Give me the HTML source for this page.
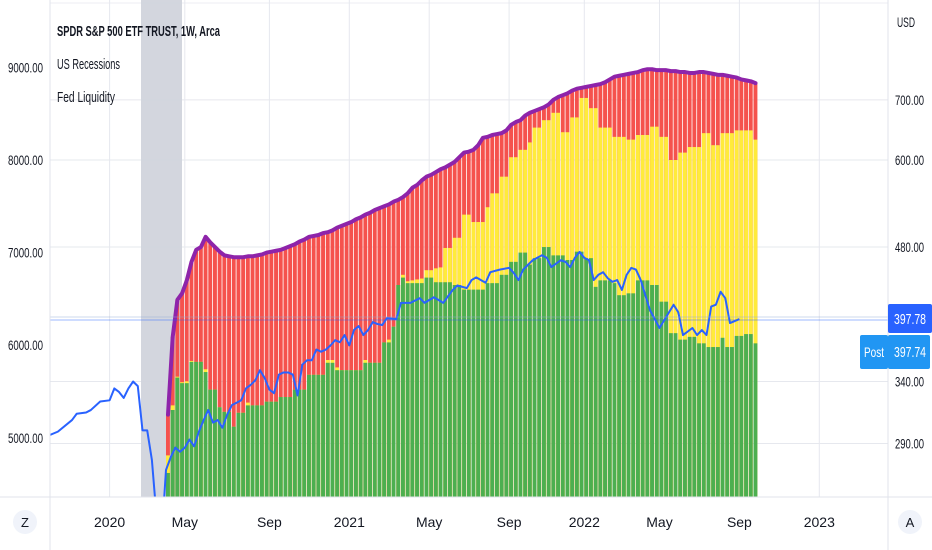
<!DOCTYPE html>
<html><head><meta charset="utf-8"><style>
html,body{margin:0;padding:0;background:#fff;}
svg{display:block;font-family:"Liberation Sans",sans-serif;}
</style></head><body>
<svg id="chart" width="932" height="550" viewBox="0 0 932 550" xmlns="http://www.w3.org/2000/svg">
<defs><clipPath id="plotclip"><rect x="50" y="0" width="838" height="497"/></clipPath></defs>
<rect x="0" y="0" width="932" height="550" fill="#ffffff"/>
<g id="grid"></g>
<rect x="141" y="0" width="41" height="497" fill="#d1d4dc" opacity="0.95"/>
<g id="plot" clip-path="url(#plotclip)"></g>
<line x1="50" x2="888" y1="320" y2="320" stroke="#2962ff" stroke-width="0.8" opacity="0.6"/>
<line x1="50" x2="888" y1="317" y2="317" stroke="#8fa8d8" stroke-width="0.7" opacity="0.6"/>
<line x1="50" x2="50" y1="0" y2="550" stroke="#e0e3eb"/>
<line x1="888" x2="888" y1="0" y2="550" stroke="#e0e3eb"/>
<line x1="0" x2="932" y1="497" y2="497" stroke="#e0e3eb"/>
<g id="axes"></g>
<text x="57" y="36" font-size="15" font-weight="bold" fill="#131722" textLength="163" lengthAdjust="spacingAndGlyphs">SPDR S&amp;P 500 ETF TRUST, 1W, Arca</text>
<text x="57" y="69" font-size="15" fill="#131722" textLength="63" lengthAdjust="spacingAndGlyphs">US Recessions</text>
<text x="57" y="102" font-size="15" fill="#131722" textLength="58" lengthAdjust="spacingAndGlyphs">Fed Liquidity</text>
<text x="897" y="27" font-size="14" fill="#131722" textLength="18" lengthAdjust="spacingAndGlyphs">USD</text>
<rect x="888" y="304" width="44" height="29" rx="2" fill="#2962ff"/>
<text x="926" y="324" font-size="15" fill="#fff" text-anchor="end" textLength="32" lengthAdjust="spacingAndGlyphs">397.78</text>
<rect x="860" y="335" width="28" height="34" rx="2" fill="#2196f3"/>
<text x="874" y="357" font-size="14" fill="#fff" text-anchor="middle" textLength="20" lengthAdjust="spacingAndGlyphs">Post</text>
<rect x="888" y="335" width="42" height="34" rx="2" fill="#2196f3"/>
<text x="926" y="357" font-size="15" fill="#fff" text-anchor="end" textLength="32" lengthAdjust="spacingAndGlyphs">397.74</text>
<circle cx="25" cy="522" r="12" fill="#f0f3fa"/>
<text x="25" y="527" font-size="13" fill="#131722" text-anchor="middle">Z</text>
<circle cx="910" cy="522" r="12" fill="#f0f3fa"/>
<text x="910" y="527" font-size="13" fill="#131722" text-anchor="middle">A</text>
</svg>
<script>
const totalTop=[5250,6090,6490,6560,6700,6900,7030,7060,7170,7110,7060,7010,6970,6960,6950,6950,6950,6960,6960,6970,6980,7000,7010,7020,7030,7050,7070,7090,7120,7140,7170,7180,7190,7210,7220,7240,7270,7290,7310,7330,7360,7380,7410,7430,7460,7480,7500,7520,7550,7570,7600,7640,7700,7730,7780,7820,7840,7870,7900,7920,7950,7980,8030,8080,8090,8110,8160,8240,8250,8270,8280,8290,8320,8380,8410,8430,8480,8510,8530,8550,8570,8600,8650,8680,8700,8720,8750,8770,8780,8790,8800,8810,8820,8840,8870,8900,8910,8920,8930,8940,8950,8970,8980,8980,8970,8970,8970,8960,8960,8950,8950,8940,8940,8950,8950,8940,8930,8920,8920,8910,8900,8890,8870,8860,8850,8830];
const yellowTop=[4810,5350,5660,5600,5610,5830,5820,5820,5740,5520,5520,5330,5280,5280,5120,5270,5270,5380,5350,5350,5350,5390,5390,5390,5440,5440,5440,5520,5520,5520,5680,5680,5680,5680,5840,5840,5760,5730,5730,5730,5730,5730,5840,5810,5810,5810,6030,6060,6200,6650,6760,6690,6700,6710,6720,6810,6810,6830,6840,7050,7050,7160,7160,7410,7410,7330,7330,7330,7490,7640,7640,7820,7820,8030,8030,8110,8110,8190,8350,8350,8430,8430,8510,8510,8300,8300,8460,8460,8670,8670,8560,8560,8350,8350,8350,8250,8250,8250,8220,8220,8270,8270,8270,8360,8360,8250,8250,8000,8000,8080,8080,8140,8140,8140,8290,8290,8160,8160,8290,8290,8290,8320,8320,8320,8320,8220];
const greenTop=[4620,5300,5650,5590,5590,5820,5820,5820,5710,5520,5520,5330,5280,5280,5120,5270,5270,5350,5350,5350,5350,5390,5390,5390,5440,5440,5440,5520,5520,5520,5680,5680,5680,5680,5810,5810,5730,5730,5730,5730,5730,5730,5810,5810,5810,5810,6030,6030,6200,6650,6730,6670,6670,6670,6670,6730,6730,6680,6680,6680,6680,6650,6650,6600,6600,6600,6600,6600,6670,6670,6670,6760,6760,6900,6900,7000,7000,6870,6940,6940,7060,7060,6970,6970,6970,6920,6920,7010,7010,6940,6940,6630,6700,6700,6700,6670,6540,6540,6560,6560,6700,6700,6700,6650,6650,6470,6470,6130,6130,6060,6060,6090,6090,6020,6020,5980,5980,5980,6080,5980,5980,6100,6100,6120,6120,6020];
const barStartWeek=25;
const spyWeeks=[0,2,5,6,8,9,11,13,14,15,16,17,18,19,20,21,22,23,24,25,26,27,28,29,30,31,32,33,34,35,36,37,38,39,40,41,42,43,44,45,46,47,48,49,50,51,52,53,54,55,56,57,58,59,60,61,62,63,64,65,66,67,68,69,70,71,72,74,75,77,79,80,82,84,86,87,89,90,91,93,94,96,98,99,100,101,103,105,106,107,109,110,111,112,113,114,115,116,117,118,119,120,121,122,123,124,125,126,127,128,130,133,134,135,137,138,139,140,141,142,143,144,145,147,148];
const spyPrices=[296,299,308,313,314,316,323,324,334,331,326,334,340,336,300,300,278,240,225,271,280,287,284,287,293,288,299,308,316,306,308,302,312,320,322,324,334,337,341,350,343,333,330,346,348,348,346,328,355,359,359,369,367,369,373,378,376,383,373,388,392,383,388,396,394,393,400,399,416,416,421,416,422,416,430,435,432,441,444,438,450,453,455,449,441,453,464,470,467,456,464,462,456,467,474,467,464,441,447,450,443,439,441,430,447,455,453,441,424,408,390,414,406,383,390,383,388,383,412,414,428,421,395,399];
const leftTicks=[9000,8000,7000,6000,5000];
const rightTicks=[700,600,480,340,290];
const timeLabels=["2020","May","Sep","2021","May","Sep","2022","May","Sep","2023"];
const timeLabelWeeks=[13,29,47,64,81,98,114,130,147,164];

const NS="http://www.w3.org/2000/svg";
const PLOT_BOTTOM=497;
function xw(w){return 48.5+4.7*w;}
function yL(v){return (9728-v)/10.8;}
function yR(p){return 160-390*Math.log(p/600);}
function mk(tag,attrs,parent){const e=document.createElementNS(NS,tag);for(const k in attrs)e.setAttribute(k,attrs[k]);parent.appendChild(e);return e;}

const grid=document.getElementById('grid');
const plot=document.getElementById('plot');
const axes=document.getElementById('axes');

mk('line',{x1:50,x2:888,y1:3,y2:3,stroke:'#eceef3'},grid);
rightTicks.forEach(function(p){
  const l=mk('line',{x1:50,x2:888,y1:yR(p),y2:yR(p),stroke:'#e6e8ee'},grid);
  
  
});
timeLabelWeeks.forEach(function(w){
  const l=mk('line',{x1:xw(w),x2:xw(w),y1:0,y2:497,stroke:'#e6e8ee'},grid);
  
  
});

for(let i=0;i<totalTop.length;i++){
  const x=xw(barStartWeek+i);
  const r=mk('rect',{x:x,y:yL(totalTop[i]),width:3.9,height:PLOT_BOTTOM-yL(totalTop[i]),fill:'#f5524d'},plot);
  
  
  const yb=mk('rect',{x:x,y:yL(yellowTop[i]),width:3.9,height:PLOT_BOTTOM-yL(yellowTop[i]),fill:'#ffeb3b'},plot);
  
  
  const g=mk('rect',{x:x,y:yL(greenTop[i]),width:3.9,height:PLOT_BOTTOM-yL(greenTop[i]),fill:'#4caf50'},plot);
  
  
}
let pts=[];
for(let i=0;i<totalTop.length;i++){
  const x=xw(barStartWeek+i)+2;
  pts.push(x+','+yL(totalTop[i]));
}
const pl=mk('polyline',{points:pts.join(' '),fill:'none',stroke:'#8e24aa','stroke-width':4,'stroke-linejoin':'round','stroke-linecap':'round'},plot);



const spyPts=spyWeeks.map(function(w,i){return xw(w)+','+yR(spyPrices[i]);});
const sl=mk('polyline',{points:spyPts.join(' '),fill:'none',stroke:'#2962ff','stroke-width':2,'stroke-linejoin':'round'},plot);



leftTicks.forEach(function(v){
  const t=mk('text',{x:43,y:yL(v)+5,'font-size':14,fill:'#131722','text-anchor':'end',textLength:35,lengthAdjust:'spacingAndGlyphs'},axes);
  t.textContent=v.toFixed(2);
  
  
});
rightTicks.forEach(function(p){
  const t=mk('text',{x:895,y:yR(p)+5,'font-size':14,fill:'#131722',textLength:29,lengthAdjust:'spacingAndGlyphs'},axes);
  t.textContent=p.toFixed(2);
  
  
});
timeLabels.forEach(function(s,i){
  const t=mk('text',{x:xw(timeLabelWeeks[i]),y:527,'font-size':14,fill:'#131722','text-anchor':'middle'},axes);
  t.textContent=s;
  
  
});
</script>
</body></html>
